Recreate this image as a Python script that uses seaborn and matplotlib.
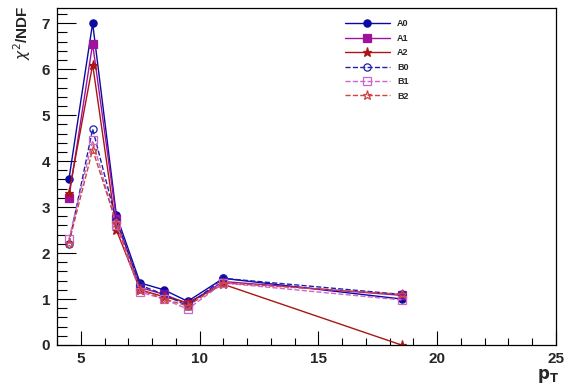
import matplotlib
matplotlib.use("Agg")
import matplotlib.pyplot as plt
import seaborn as sns
import pandas as pd
from matplotlib.ticker import MultipleLocator

pt = [4.5, 5.5, 6.5, 7.5, 8.5, 9.5, 11.0, 18.5]
A0 = [3.6, 7.0, 2.82, 1.35, 1.2, 0.95, 1.45, 1.0]
A1 = [3.2, 6.55, 2.75, 1.25, 1.1, 0.9, 1.38, 1.08]
A2 = [3.3, 6.1, 2.5, 1.2, 1.05, 0.92, 1.32, 0.0]
B0 = [2.2, 4.7, 2.7, 1.3, 1.1, 0.85, 1.45, 1.1]
B1 = [2.3, 4.45, 2.6, 1.15, 1.0, 0.78, 1.35, 0.98]
B2 = [2.22, 4.25, 2.65, 1.2, 1.0, 0.85, 1.35, 1.1]
names = ["A0", "A1", "A2", "B0", "B1", "B2"]
series = [A0, A1, A2, B0, B1, B2]

sns.set_theme(style="ticks")
plt.rcParams['font.family'] = ['Liberation Sans', 'DejaVu Sans']

styles = {
    "A0": dict(color="#0a0aa0", marker="o", ls="-", fill=True),
    "A1": dict(color="#a0119f", marker="s", ls="-", fill=True),
    "A2": dict(color="#aa1515", marker="*", ls="-", fill=True),
    "B0": dict(color="#2020b0", marker="o", ls="--", fill=False),
    "B1": dict(color="#cc66cc", marker="s", ls="--", fill=False),
    "B2": dict(color="#cc4444", marker="*", ls="--", fill=False),
}

fig = plt.figure(figsize=(5.67, 3.84), dpi=100)
ax = fig.add_axes([57/567, 39/384, (556-57)/567, (345-8)/384])

for n, vals in zip(names, series):
    st = styles[n]
    df = pd.DataFrame({"pt": pt, "chi2": vals})
    ms = 5.2 if st["marker"] != "*" else 6.5
    sns.lineplot(data=df, x="pt", y="chi2", ax=ax, color=st["color"],
                 linestyle=st["ls"], linewidth=1.0, marker=st["marker"],
                 markersize=ms,
                 markerfacecolor=st["color"] if st["fill"] else "none",
                 markeredgecolor=st["color"], markeredgewidth=0.9,
                 label=n, errorbar=None, sort=False)

ax.set_xlim(4, 25)
ax.set_ylim(0, 7.33)
ax.xaxis.set_major_locator(MultipleLocator(5))
ax.xaxis.set_minor_locator(MultipleLocator(1))
ax.yaxis.set_major_locator(MultipleLocator(1))
ax.yaxis.set_minor_locator(MultipleLocator(0.2))
ax.tick_params(which="both", direction="in", top=False, right=False,
               labelsize=11, width=0.8, color="black")
ax.tick_params(axis="x", which="major", length=10, pad=5)
ax.tick_params(axis="x", which="minor", length=5)
ax.tick_params(axis="y", which="major", length=14, pad=5)
ax.tick_params(axis="y", which="minor", length=7)
for lab in ax.get_xticklabels() + ax.get_yticklabels():
    lab.set_fontweight("bold")
for sp in ax.spines.values():
    sp.set_linewidth(0.9)
    sp.set_color("black")
    sp.set_visible(True)

ax.set_xlabel("")
ax.set_ylabel("")
fig.text(548/567, 1 - 376/384, r"$\mathbf{p_T}$", fontsize=12, ha="center", va="center")
fig.text(22/567, 1 - 33/384, r"$\chi^{2}$/NDF", fontsize=11, rotation=90,
         ha="center", va="center", fontweight="bold")

leg = ax.legend(loc="upper left", bbox_to_anchor=(0.56, 0.99), frameon=False,
                handlelength=5.0, labelspacing=0.6,
                prop={"weight": "bold", "size": 6.5})
fig.savefig("out.png", dpi=100)
